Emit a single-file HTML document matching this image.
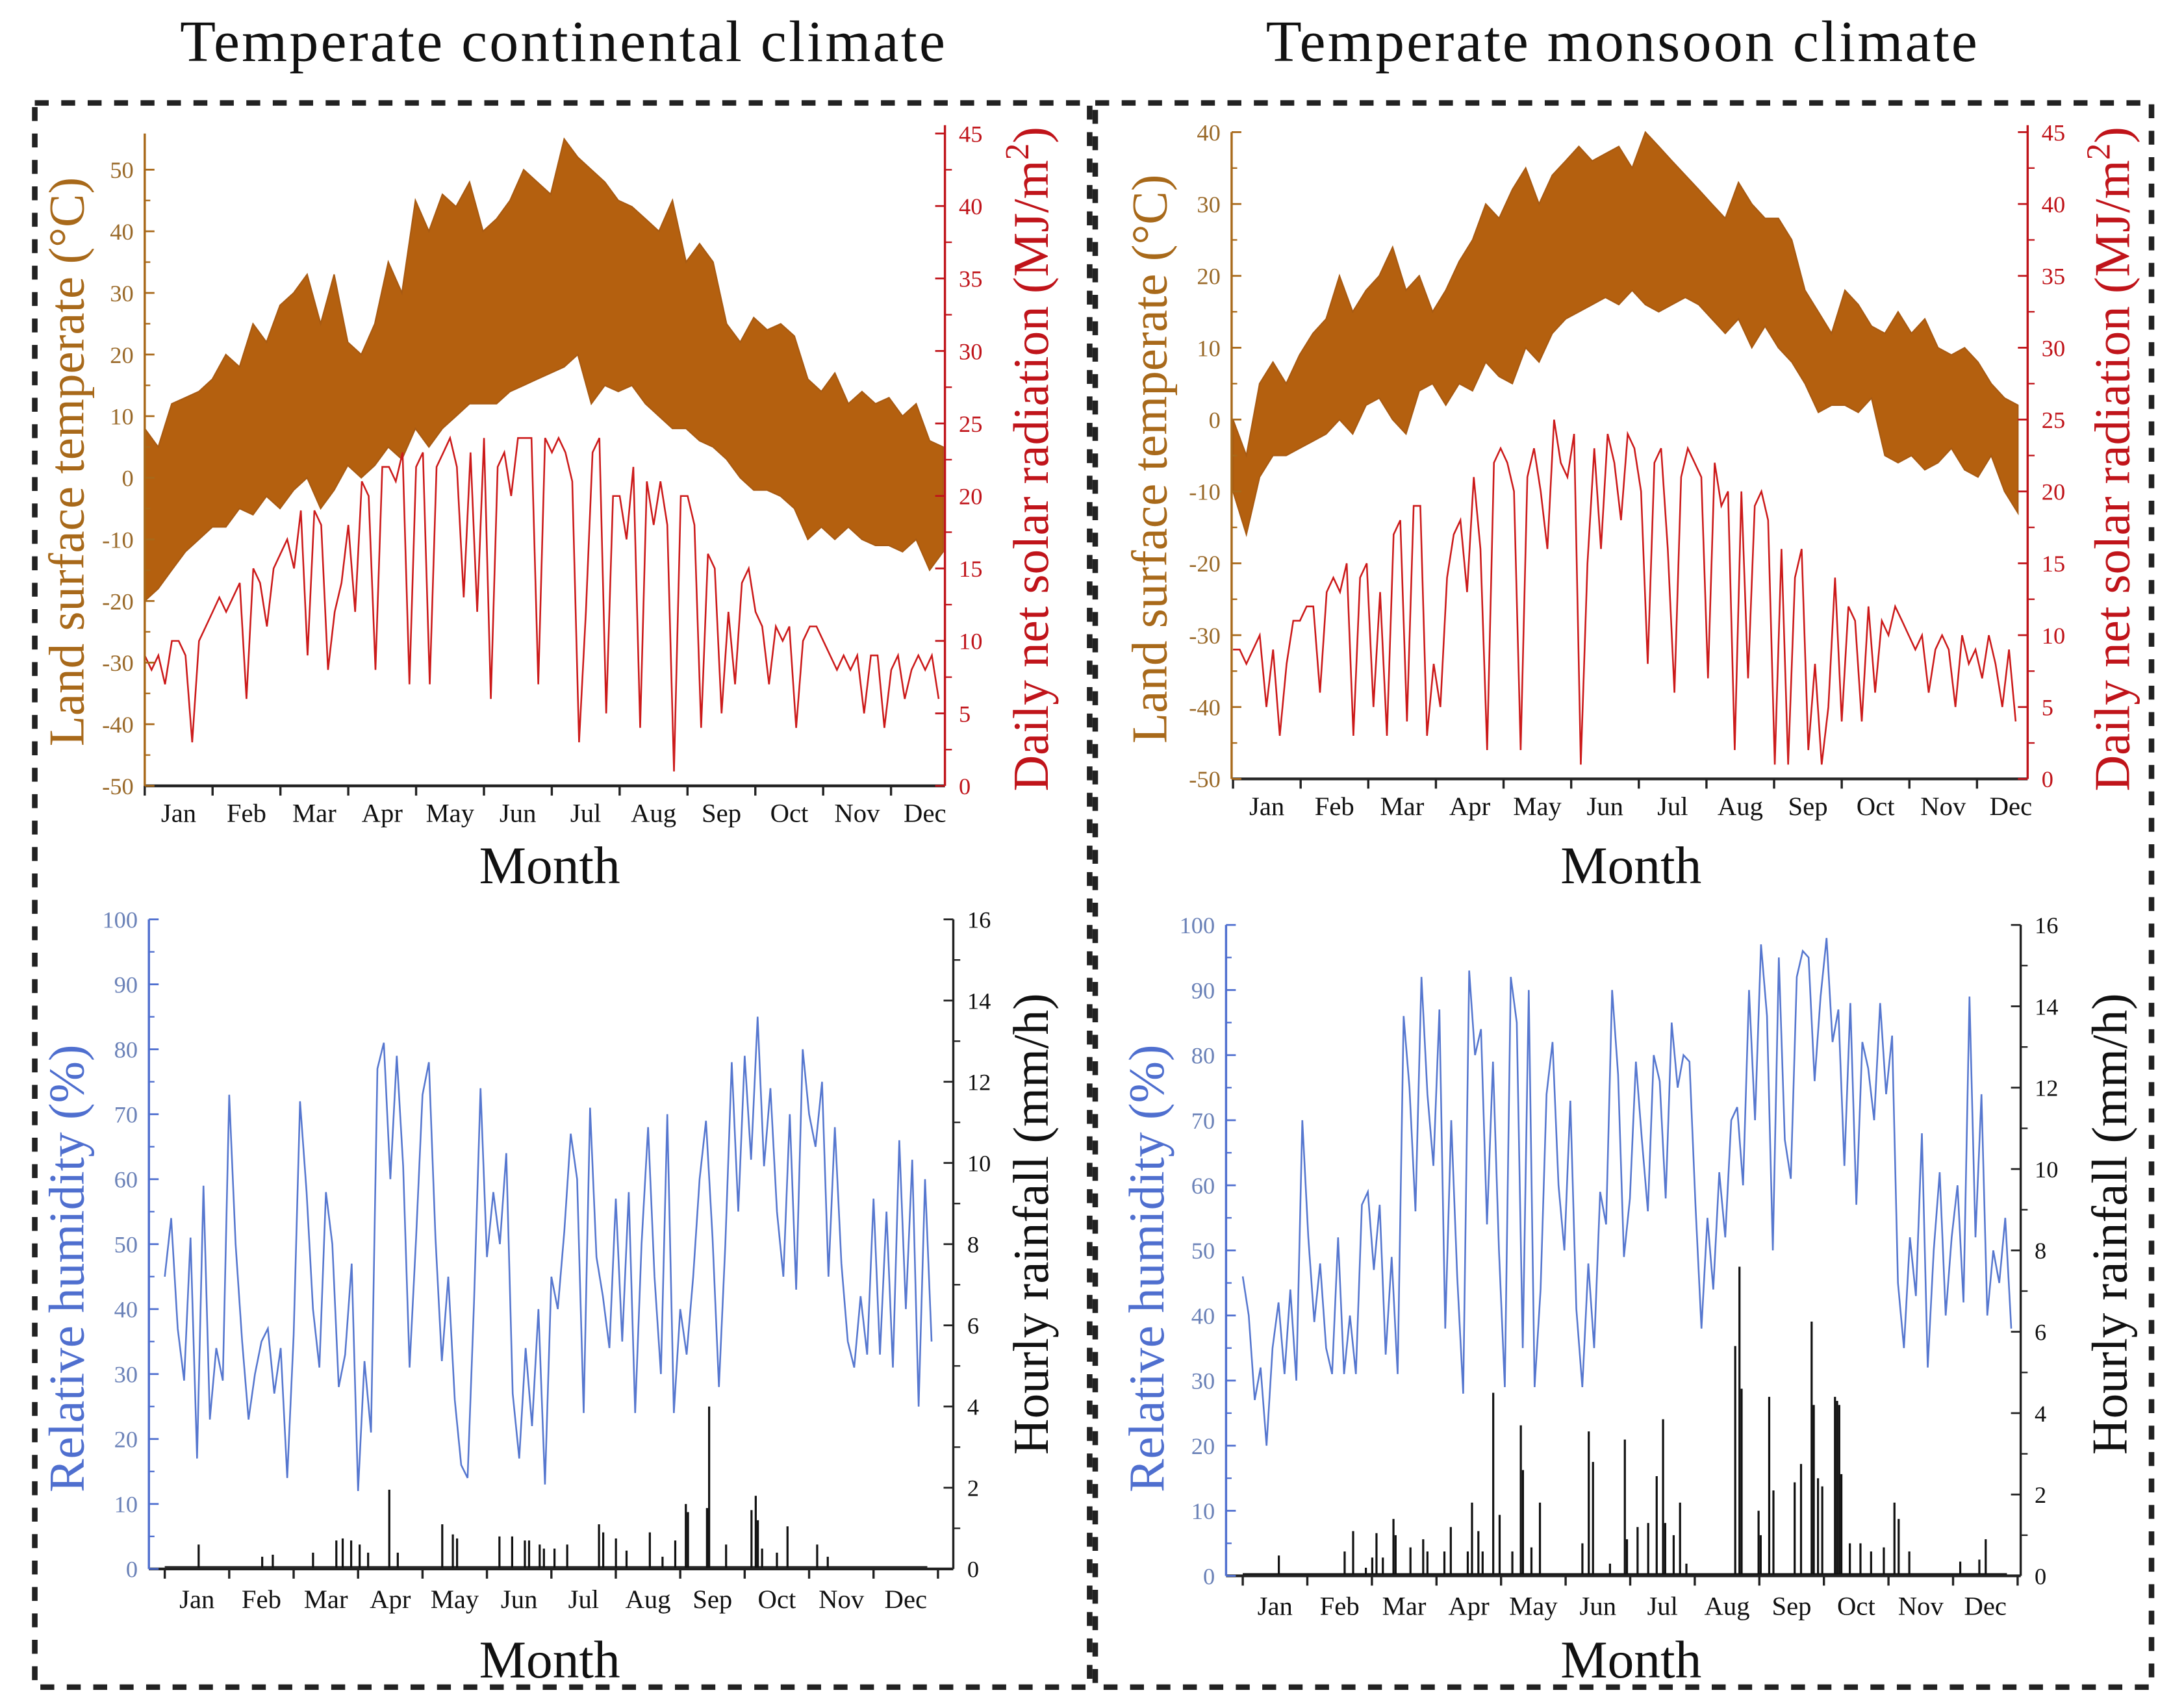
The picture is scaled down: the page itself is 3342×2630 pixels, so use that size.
<!DOCTYPE html>
<html><head><meta charset="utf-8">
<style>
html,body{margin:0;padding:0;background:#fff;}
svg{display:block;}
text{font-family:"Liberation Serif","Times New Roman",serif;}
</style></head>
<body>
<svg id="fig" xmlns="http://www.w3.org/2000/svg" width="3342" height="2630" viewBox="0 0 1560 1228" preserveAspectRatio="none">
<rect x="0" y="0" width="1560" height="1228" fill="#fff"/>
<text x="405" y="44" font-size="42" letter-spacing="1.5" text-anchor="middle" fill="#111">Temperate continental climate</text>
<text x="1166" y="44" font-size="42" letter-spacing="1.5" text-anchor="middle" fill="#111">Temperate monsoon climate</text>
<rect x="25" y="74" width="758" height="1139" fill="none" stroke="#222" stroke-width="4" stroke-dasharray="10 9"/>
<rect x="787" y="74" width="759" height="1139" fill="none" stroke="#222" stroke-width="4" stroke-dasharray="10 9"/>
<g id="layer"></g>
</svg>
<script>
// ---------- DATA ----------
const months = ["Jan","Feb","Mar","Apr","May","Jun","Jul","Aug","Sep","Oct","Nov","Dec"];
const tempTicksC = [-50,-40,-30,-20,-10,0,10,20,30,40,50];
const tempTicksM = [-50,-40,-30,-20,-10,0,10,20,30,40];
const radTicks = [0,5,10,15,20,25,30,35,40,45];
const humTicks = [0,10,20,30,40,50,60,70,80,90,100];
const rainTicks = [0,2,4,6,8,10,12,14,16];

// continental land surface temperature envelope (5-day)
const contTmax = [8,5,12,13,14,16, 20,18,25,22,28, 30,33,25,33,22, 20,25,35,30,45, 40,46,44,48,40, 42,45,50,48,46, 55,52,50,48,45, 44,42,40,45,35, 38,35,25,22,26, 24,25,23,16,14, 17,12,14,12,13, 10,12,6,5];
const contTmin = [-20,-18,-15,-12,-10,-8, -8,-5,-6,-3,-5, -2,0,-5,-2,2, 0,2,5,3,8, 5,8,10,12,12, 12,14,15,16,17, 18,20,12,15,14, 15,12,10,8,8, 6,5,3,0,-2, -2,-3,-5,-10,-8, -10,-8,-10,-11,-11, -12,-10,-15,-12];
// continental daily net solar radiation (3-day)
const contRad = [9,8,9,7,10,10,9,3,10,11, 12,13,12,13,14,6,15,14,11,15, 16,17,15,19,9,19,18,8,12,14, 18,12,21,20,8,22,22,21,23,7, 22,23,7,22,23,24,22,13,23,12, 24,6,22,23,20,24,24,24,7,24, 23,24,23,21,3,12,23,24,5,20, 20,17,22,4,21,18,21,18,1,20, 20,18,4,16,15,5,12,7,14,15, 12,11,7,11,10,11,4,10,11,11, 10,9,8,9,8,9,5,9,9,4, 8,9,6,8,9,8,9,6];
// monsoon temperature envelope
const monTmax = [0,-5,5,8,5,9, 12,14,20,15,18, 20,24,18,20,15, 18,22,25,30,28, 32,35,30,34,36, 38,36,37,38,35, 40,38,36,34,32, 30,28,33,30,28, 28,25,18,15,12, 18,16,13,12,15, 12,14,10,9,10, 8,5,3,2];
const monTmin = [-10,-16,-8,-5,-5,-4, -3,-2,0,-2,2, 3,0,-2,4,5, 2,5,4,8,6, 5,10,8,12,14, 15,16,17,16,18, 16,15,16,17,16, 14,12,14,10,13, 10,8,5,1,2, 2,1,3,-5,-6, -5,-7,-6,-4,-7, -8,-5,-10,-13];
const monRad = [9,9,8,9,10,5,9,3,8,11, 11,12,12,6,13,14,13,15,3,14, 15,5,13,3,17,18,4,19,19,3, 8,5,14,17,18,13,21,16,2,22, 23,22,20,2,21,23,20,16,25,22, 21,24,1,15,23,16,24,22,18,24, 23,20,8,22,23,16,6,21,23,22, 21,7,22,19,20,2,20,7,19,20, 18,1,16,1,14,16,2,8,1,5, 14,4,12,11,4,12,6,11,10,12, 11,10,9,10,6,9,10,9,5,10, 8,9,7,10,8,5,9,4];
// relative humidity (approx 3-day)
const contHum = [45,54,37,29,51,17,59,23,34,29, 73,50,35,23,30,35,37,27,34,14, 36,72,58,40,31,58,50,28,33,47, 12,32,21,77,81,60,79,62,31,51, 73,78,51,32,45,26,16,14,41,74, 48,58,50,64,27,17,34,22,40,13, 45,40,52,67,60,24,71,48,42,34, 57,35,58,24,50,68,45,30,70,24, 40,33,45,60,69,51,28,50,78,55, 79,63,85,62,74,55,45,70,43,80, 70,65,75,45,68,47,35,31,42,33, 57,33,55,31,66,40,63,25,60,35];
const monHum = [46,40,27,32,20,35,42,31,44,30, 70,52,39,48,35,31,52,31,40,31, 57,59,47,57,34,49,31,86,75,56, 92,74,63,87,38,70,46,28,93,80, 84,54,79,50,29,92,85,35,90,29, 44,74,82,60,50,73,41,29,48,35, 59,54,90,77,49,58,79,67,56,80, 76,58,85,75,80,79,57,38,55,44, 62,52,70,72,60,90,70,97,86,50, 95,67,61,92,96,95,76,89,98,82, 87,63,88,57,82,78,70,88,74,83, 45,35,52,43,68,32,50,62,40,52, 60,42,89,52,74,40,50,45,55,38];
// hourly rainfall spikes: day-of-year and value
const contRainDay = [16,46,51,70,81,84,88,92,96,106,110,131,136,138,158,164,170,172,177,179,184,190,205,207,213,218,229,235,241,246,247,256,257,265,277,279,280,282,289,294,308,313];
const contRainVal = [0.6,0.3,0.35,0.4,0.7,0.75,0.7,0.6,0.4,1.95,0.4,1.1,0.85,0.75,0.8,0.8,0.7,0.7,0.6,0.5,0.5,0.6,1.1,0.9,0.75,0.45,0.9,0.3,0.7,1.6,1.4,1.5,4,0.6,1.45,1.8,1.2,0.5,0.4,1.05,0.6,0.3];
const monRainDay = [17,48,52,58,61,63,66,71,72,79,85,87,95,98,106,108,111,113,118,121,127,131,132,136,140,160,163,165,173,180,181,186,191,195,198,199,203,206,209,232,234,235,243,244,248,250,260,263,268,269,271,273,279,280,281,282,286,291,296,302,307,309,314,338,347,350];
const monRainVal = [0.5,0.6,1.1,0.2,0.45,1.05,0.45,1.4,1.0,0.7,0.9,0.6,0.6,1.2,0.6,1.8,1.1,0.6,4.5,1.5,0.6,3.7,2.6,0.7,1.8,0.8,3.55,2.8,0.3,3.35,0.9,1.2,1.3,2.45,3.85,1.3,1.0,1.8,0.3,5.65,7.6,4.6,1.6,1.0,4.4,2.1,2.3,2.75,6.25,4.2,2.4,2.2,4.4,4.3,4.2,2.5,0.8,0.8,0.6,0.7,1.8,1.4,0.6,0.35,0.4,0.9];

// ---------- DRAWING ----------
const NS = "http://www.w3.org/2000/svg";
const layer = document.getElementById("layer");
function mk(tag, attrs, parent){
  const e = document.createElementNS(NS, tag);
  for (const k in attrs) e.setAttribute(k, attrs[k]);
  (parent||layer).appendChild(e);
  return e;
}
function linScale(v0, p0, v1, p1){ return v => p0 + (v - v0) * (p1 - p0) / (v1 - v0); }

function drawPanel(P){
  const g = mk("g", {});
  
  
  const xd = d => P.xJan + d / 30.42 * P.mw;
  const yL = linScale(P.L.min, P.L.p0, P.L.max, P.L.p1);
  const yR = linScale(P.R.min, P.R.p0, P.R.max, P.R.p1);
  const clipId = P.name + "-clip";
  const cp = mk("clipPath", {id: clipId}, g);
  mk("rect", {x: P.x0, y: P.top - 10, width: P.x1 - P.x0, height: P.bot - P.top + 10}, cp);
  const dataG = mk("g", {"clip-path": "url(#" + clipId + ")"}, g);
  P.series(dataG, xd, yL, yR);
  const bax = mk("line", {x1: P.x0, y1: P.bot, x2: P.x1, y2: P.bot, stroke: "#222", "stroke-width": 2}, g);
  
  
  for (let m = 0; m <= 12; m++){
    const x = P.xJan + m * P.mw;
    if (x > P.x1 + 1) continue;
    mk("line", {x1: x, y1: P.bot, x2: x, y2: P.bot + 7, stroke: "#222", "stroke-width": 1.6}, g);
  }
  months.forEach((mn, m) => {
    const t = mk("text", {x: P.xJan + (m + 0.5) * P.mw, y: P.bot + P.mlOff, "font-size": 19, "text-anchor": "middle", fill: "#111"}, g);
    t.textContent = mn;
    
    
  });
  const mt = mk("text", {x: P.monthX, y: P.monthY, "font-size": 38, "text-anchor": "middle", fill: "#111"}, g);
  mt.textContent = "Month";
  
  
  const lax = mk("line", {x1: P.x0, y1: P.L.top, x2: P.x0, y2: P.bot, stroke: P.L.color, "stroke-width": 1.6}, g);
  
  
  P.L.ticks.forEach((v, i) => {
    const y = yL(v);
    mk("line", {x1: P.x0, y1: y, x2: P.x0 + 7, y2: y, stroke: P.L.color, "stroke-width": 1.3}, g);
    if (i < P.L.ticks.length - 1){
      const ym = yL((v + P.L.ticks[i+1]) / 2);
      mk("line", {x1: P.x0, y1: ym, x2: P.x0 + 4, y2: ym, stroke: P.L.color, "stroke-width": 1.1}, g);
    }
    const t = mk("text", {x: P.x0 - 8, y: y + 6, "font-size": 17, "text-anchor": "end", fill: P.L.tcolor}, g);
    t.textContent = v;
    
    
  });
  const rax = mk("line", {x1: P.x1, y1: P.R.top, x2: P.x1, y2: P.bot, stroke: P.R.color, "stroke-width": 1.6}, g);
  
  
  P.R.ticks.forEach((v, i) => {
    const y = yR(v);
    mk("line", {x1: P.x1, y1: y, x2: P.x1 - 7, y2: y, stroke: P.R.color, "stroke-width": 1.3}, g);
    if (i < P.R.ticks.length - 1){
      const ym = yR((v + P.R.ticks[i+1]) / 2);
      mk("line", {x1: P.x1, y1: ym, x2: P.x1 + 5, y2: ym, stroke: P.R.color, "stroke-width": 1.1}, g);
    }
    const t = mk("text", {x: P.x1 + 10, y: y + 6, "font-size": 17, "text-anchor": "start", fill: P.R.tcolor}, g);
    t.textContent = v;
    
    
  });
  const lt = mk("text", {transform: "translate(" + P.L.tx + "," + P.L.ty + ") rotate(-90)", "font-size": 36, "text-anchor": "middle", fill: P.L.tcolor2}, g);
  lt.innerHTML = P.L.title;
  
  
  const rt = mk("text", {transform: "translate(" + P.R.tx + "," + P.R.ty + ") rotate(-90)", "font-size": 36, "text-anchor": "middle", fill: P.R.tcolor2}, g);
  rt.innerHTML = P.R.title;
  
  
}

function tempSeries(tmax, tmin, rad, endDay, radEnd){
  return function(g, xd, yL, yR){
    const step = endDay / (tmax.length - 1);
    let d = "";
    tmax.forEach((v, i) => { d += (i ? "L" : "M") + xd(i*step).toFixed(1) + "," + yL(v).toFixed(1); });
    for (let i = tmin.length - 1; i >= 0; i--) d += "L" + xd(i*step).toFixed(1) + "," + yL(tmin[i]).toFixed(1);
    const band = mk("path", {d: d + "Z", fill: "#b4600f", stroke: "#a85a12", "stroke-width": 1}, g);
    
    
    const rs = radEnd / (rad.length - 1);
    let p = "";
    rad.forEach((v, i) => { p += (i ? "L" : "M") + xd(i*rs).toFixed(1) + "," + yR(v).toFixed(1); });
    const rl = mk("path", {d: p, fill: "none", stroke: "#cc1a1a", "stroke-width": 1.2}, g);
    
    
  };
}
function humSeries(hum, rday, rval){
  return function(g, xd, yL, yR){
    const step = 362 / (hum.length - 1);
    let p = "";
    hum.forEach((v, i) => { p += (i ? "L" : "M") + xd(i*step).toFixed(1) + "," + yL(v).toFixed(1); });
    const hl = mk("path", {d: p, fill: "none", stroke: "#5677cf", "stroke-width": 1.2}, g);
    
    
    const base = mk("line", {x1: xd(0), y1: yR(0.05), x2: xd(360), y2: yR(0.05), stroke: "#111", "stroke-width": 1}, g);
    
    
    rday.forEach((dday, i) => {
      const b = mk("line", {x1: xd(dday), y1: yR(0), x2: xd(dday), y2: yR(rval[i]), stroke: "#111", "stroke-width": 1.5}, g);
      
      
    });
  };
}

const brown = "#a8691a", brownT = "#9a6a2a", red = "#c0141a", blue = "#4f6fcf", blueT = "#6b82b8";
const tempTitle = "Land surface temperate (°C)";
const radTitle = 'Daily net solar radiation (MJ/m<tspan font-size="24" dy="-14">2</tspan><tspan dy="14">)</tspan>';

drawPanel({name: "continental-temperature-panel", x0: 104, x1: 679, top: 96, bot: 565, xJan: 104, mw: 48.75, mlOff: 26, monthX: 395, monthY: 635,
  L: {min: -50, p0: 565, max: 50, p1: 122, top: 96, ticks: tempTicksC, color: brown, tcolor: brownT, tcolor2: brown, title: tempTitle, tx: 60, ty: 332},
  R: {min: 0, p0: 565, max: 45, p1: 96, top: 90, ticks: radTicks, color: red, tcolor: red, tcolor2: red, title: radTitle, tx: 753, ty: 330},
  series: tempSeries(contTmax, contTmin, contRad, 358, 356)});
drawPanel({name: "monsoon-temperature-panel", x0: 885, x1: 1457, top: 95, bot: 560, xJan: 886, mw: 48.6, mlOff: 26, monthX: 1172, monthY: 635,
  L: {min: -50, p0: 560, max: 40, p1: 95, top: 95, ticks: tempTicksM, color: brown, tcolor: brownT, tcolor2: brown, title: tempTitle, tx: 838, ty: 330},
  R: {min: 0, p0: 560, max: 45, p1: 95, top: 90, ticks: radTicks, color: red, tcolor: red, tcolor2: red, title: radTitle, tx: 1530, ty: 330},
  series: tempSeries(monTmax, monTmin, monRad, 353, 352)});
drawPanel({name: "continental-humidity-panel", x0: 107, x1: 685, top: 661, bot: 1128, xJan: 118.4, mw: 46.3, mlOff: 28, monthX: 395, monthY: 1206,
  L: {min: 0, p0: 1128, max: 100, p1: 661, top: 661, ticks: humTicks, color: blue, tcolor: blueT, tcolor2: blue, title: "Relative humidity (%)", tx: 60, ty: 912},
  R: {min: 0, p0: 1128, max: 16, p1: 661, top: 661, ticks: rainTicks, color: "#222", tcolor: "#111", tcolor2: "#111", title: "Hourly rainfall (mm/h)", tx: 753, ty: 880},
  series: humSeries(contHum, contRainDay, contRainVal)});
drawPanel({name: "monsoon-humidity-panel", x0: 881, x1: 1452, top: 665, bot: 1133, xJan: 893, mw: 46.4, mlOff: 28, monthX: 1172, monthY: 1206,
  L: {min: 0, p0: 1133, max: 100, p1: 665, top: 665, ticks: humTicks, color: blue, tcolor: blueT, tcolor2: blue, title: "Relative humidity (%)", tx: 836, ty: 912},
  R: {min: 0, p0: 1133, max: 16, p1: 665, top: 665, ticks: rainTicks, color: "#222", tcolor: "#111", tcolor2: "#111", title: "Hourly rainfall (mm/h)", tx: 1528, ty: 880},
  series: humSeries(monHum, monRainDay, monRainVal)});
</script>
</body></html>
